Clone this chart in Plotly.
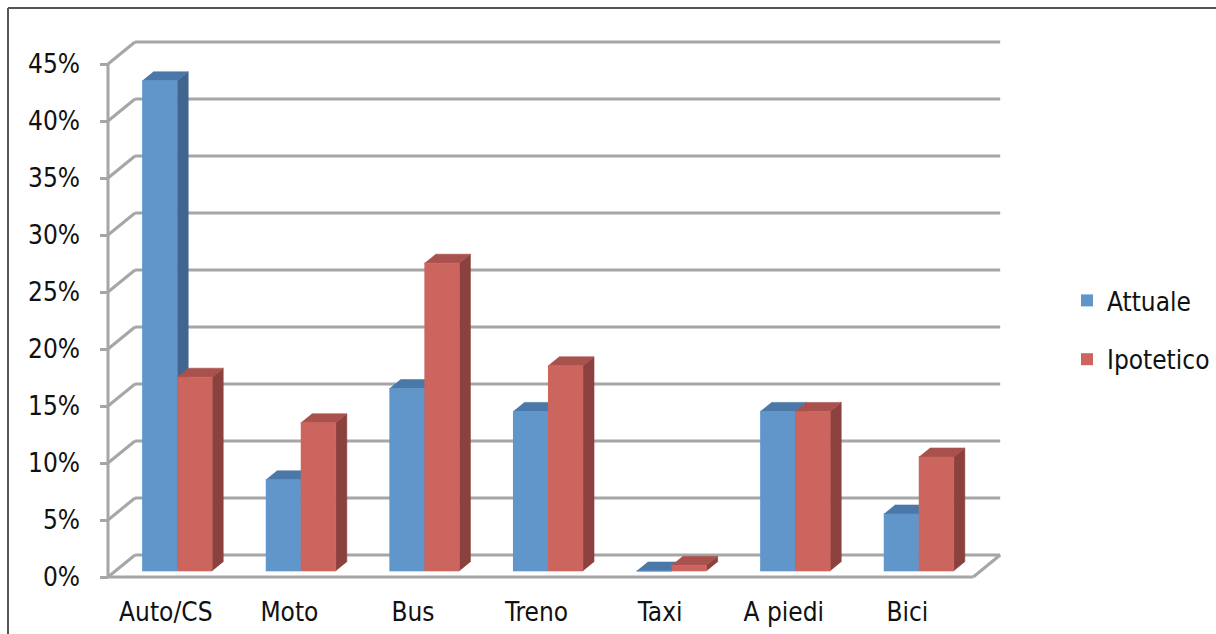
import plotly.graph_objects as go

# ---------------- data ----------------
categories = ["Auto/CS", "Moto", "Bus", "Treno", "Taxi", "A piedi", "Bici"]
attuale = [43, 8, 16, 14, 0, 14, 5]
ipotetico = [17, 13, 27, 18, 0.5, 14, 10]
y_tickvals = [0, 5, 10, 15, 20, 25, 30, 35, 40, 45]
series_names = ["Attuale", "Ipotetico"]

# ---------------- style / geometry ----------------
W, H = 1216, 634
ML, MR, MT, MB = 100, 0, 0, 44
PX_CAT = 123.6      # pixels per category (x unit)
PX_PCT = 11.4       # pixels per percent (y unit)
X0_PX = 108         # front-left corner of the floor (pixel x)
Y0_PX = 577         # front-left corner of the floor (pixel y)

DX = 27 / PX_CAT    # full floor depth, in x data units
DY = 22 / PX_PCT    # full floor depth, in y data units
F1 = 6 / 22         # depth fraction of bar front face
F2 = 15 / 22        # depth fraction of bar back face
BAR_W = 35 / PX_CAT
LABEL_SHIFT = -4 / PX_CAT

x_range = [(ML - X0_PX) / PX_CAT, (W - MR - X0_PX) / PX_CAT]
y_range = [(Y0_PX - (H - MB)) / PX_PCT, (Y0_PX - MT) / PX_PCT]

GRID = "#A6A6A6"
GRID_W = 3
FONT = "DejaVu Sans Condensed, Liberation Sans Narrow, Arial Narrow, sans-serif"
FONT_SIZE = 26

colors = {
    "Attuale": {"front": "#6096CA", "top": "#4A78A8", "side": "#40668F"},
    "Ipotetico": {"front": "#CD655F", "top": "#A9514C", "side": "#8B413D"},
}

fig = go.Figure()

# ---------------- walls / floor gridlines (shapes below) ----------------
shapes = []
ncat = len(categories)
for v in y_tickvals:
    # back wall line
    shapes.append(dict(type="line", xref="x", yref="y", layer="below",
                       x0=DX, y0=v + DY, x1=ncat + DX, y1=v + DY,
                       line=dict(color=GRID, width=GRID_W)))
    # left wall diagonal
    shapes.append(dict(type="line", xref="x", yref="y", layer="below",
                       x0=0, y0=v, x1=DX, y1=v + DY,
                       line=dict(color=GRID, width=GRID_W)))
# front axis line
shapes.append(dict(type="line", xref="x", yref="y", layer="below",
                   x0=0, y0=0, x1=0, y1=max(y_tickvals),
                   line=dict(color=GRID, width=GRID_W)))
# floor front edge and right edge
shapes.append(dict(type="line", xref="x", yref="y", layer="below",
                   x0=0, y0=0, x1=ncat, y1=0,
                   line=dict(color=GRID, width=GRID_W)))
shapes.append(dict(type="line", xref="x", yref="y", layer="below",
                   x0=ncat, y0=0, x1=ncat + DX, y1=DY,
                   line=dict(color=GRID, width=GRID_W)))


# border of the chart area (paper coords from pixels)
def px_to_paper_x(px):
    return (px - ML) / (W - ML - MR)


def px_to_paper_y(py):
    return ((H - MB) - py) / (H - MT - MB)


shapes.append(dict(type="line", xref="paper", yref="paper",
                   x0=px_to_paper_x(8), y0=px_to_paper_y(8),
                   x1=px_to_paper_x(W + 5), y1=px_to_paper_y(8),
                   line=dict(color="#555555", width=2)))
shapes.append(dict(type="line", xref="paper", yref="paper",
                   x0=px_to_paper_x(8), y0=px_to_paper_y(8),
                   x1=px_to_paper_x(8), y1=px_to_paper_y(H + 5),
                   line=dict(color="#555555", width=2)))

# ---------------- 3D bars as filled polygons ----------------
base = F1 * DY
ddx = (F2 - F1) * DX
ddy = (F2 - F1) * DY


def faces(values, offset_index):
    side_x, side_y, top_x, top_y, front_x, front_y = [], [], [], [], [], []
    for i, v in enumerate(values):
        c = i + 0.5 + F1 * DX
        x0 = c - BAR_W + offset_index * BAR_W
        x1 = x0 + BAR_W
        yb = base
        yt = base + v
        # side face
        side_x += [x1, x1, x1 + ddx, x1 + ddx, None]
        side_y += [yb, yt, yt + ddy, yb + ddy, None]
        # top face
        top_x += [x0, x1, x1 + ddx, x0 + ddx, None]
        top_y += [yt, yt, yt + ddy, yt + ddy, None]
        # front face
        front_x += [x0, x1, x1, x0, None]
        front_y += [yb, yb, yt, yt, None]
    return (side_x, side_y), (top_x, top_y), (front_x, front_y)


for k, (name, vals) in enumerate(zip(series_names, [attuale, ipotetico])):
    side, top, front = faces(vals, k)
    for part, key in ((side, "side"), (top, "top"), (front, "front")):
        col = colors[name][key]
        fig.add_trace(go.Scatter(
            x=part[0], y=part[1], mode="lines", fill="toself",
            fillcolor=col, line=dict(color=col, width=0.6),
            hoverinfo="skip", showlegend=False))

# legend entries
for k, name in enumerate(series_names):
    fig.add_trace(go.Scatter(
        x=[None], y=[None], mode="markers", name=name,
        legendgroup=name,
        marker=dict(symbol="square", size=13, color=colors[name]["front"])))

fig.update_layout(
    width=W, height=H,
    margin=dict(l=ML, r=MR, t=MT, b=MB, autoexpand=False),
    paper_bgcolor="white", plot_bgcolor="white",
    font=dict(family=FONT, size=FONT_SIZE, color="#111111"),
    shapes=shapes,
    showlegend=True,
    legend=dict(xref="container", yref="container",
                x=1067 / W, y=1 - 330 / H,
                xanchor="left", yanchor="middle",
                font=dict(size=FONT_SIZE), tracegroupgap=22,
                bgcolor="rgba(0,0,0,0)", itemsizing="constant"),
    xaxis=dict(range=x_range, showgrid=False, zeroline=False, showline=False,
               tickmode="array",
               tickvals=[i + 0.5 + LABEL_SHIFT for i in range(ncat)],
               ticktext=categories,
               ticks="", ticklabelstandoff=4, fixedrange=True,
               automargin=False),
    yaxis=dict(range=y_range, showgrid=False, zeroline=False, showline=False,
               tickmode="array", tickvals=y_tickvals,
               ticktext=[f"{v}%" for v in y_tickvals],
               ticks="inside", ticklen=8, tickwidth=GRID_W, tickcolor=GRID,
               ticklabelstandoff=19, fixedrange=True, automargin=False),
)

fig.write_html("out.html")
